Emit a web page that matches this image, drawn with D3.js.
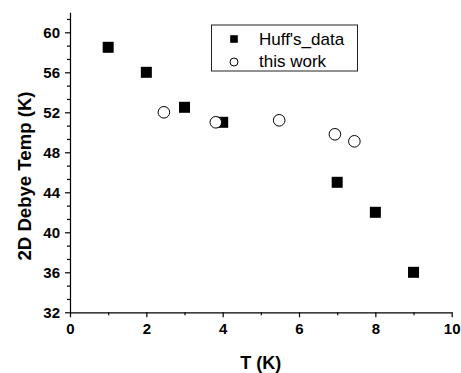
<!DOCTYPE html>
<html>
<head>
<meta charset="utf-8">
<script src="https://cdn.jsdelivr.net/npm/d3@7"></script>
<style>
  html, body { margin: 0; padding: 0; background: #fff; }
  svg { display: block; font-family: "Liberation Sans", Arial, sans-serif; }
</style>
</head>
<body>
<svg id="chart" width="461" height="373"></svg>
<script>
// Huff's measurements: temperature T (K) and 2D Debye temperature (K)
const huffT = [1, 2, 3, 4, 7, 8, 9];
const huffDebye = [58.5, 56, 52.5, 51, 45, 42, 36];

// Values from this work
const workT = [2.46, 3.82, 5.48, 6.94, 7.45];
const workDebye = [52, 51, 51.2, 49.8, 49.1];

// Axis ticks
const xTicks = [0, 2, 4, 6, 8, 10];
const xMinorTicks = [1, 3, 5, 7, 9];
const yTicks = [32, 36, 40, 44, 48, 52, 56, 60];
const yMinorStep = 4 / 3;

const seriesNames = ["Huff's_data", "this work"];

const svg = d3.select("#chart");
const plot = { left: 70, right: 451.7, top: 12.3, bottom: 312.3 };

const x = d3.scaleLinear().domain([0, 10]).range([plot.left, plot.right]);
const y = d3.scaleLinear().domain([32, 62]).range([plot.bottom, plot.top]);

const yMinorTicks = d3.range(0, 23).map(i => 32 + i * yMinorStep).filter(v => v <= 62)
  .filter(v => !yTicks.some(t => Math.abs(t - v) < 1e-6));

// X axis
svg.append("g").attr("transform", `translate(0,${plot.bottom})`)
  .call(d3.axisBottom(x).tickValues(xTicks).tickSize(5).tickPadding(6).tickSizeOuter(0).tickFormat(d3.format("d")));
svg.append("g").attr("transform", `translate(0,${plot.bottom})`)
  .call(d3.axisBottom(x).tickValues(xMinorTicks).tickSize(3).tickSizeOuter(0).tickFormat(""))
  .select(".domain").remove();

// Y axis
svg.append("g").attr("transform", `translate(${plot.left},0)`)
  .call(d3.axisLeft(y).tickValues(yTicks).tickSize(5).tickPadding(5).tickSizeOuter(0).tickFormat(d3.format("d")));
svg.append("g").attr("transform", `translate(${plot.left},0)`)
  .call(d3.axisLeft(y).tickValues(yMinorTicks).tickSize(3).tickSizeOuter(0).tickFormat(""))
  .select(".domain").remove();

svg.selectAll(".tick text")
  .attr("font-size", 15).attr("font-weight", "bold").attr("fill", "#000")
  .attr("font-family", "'Liberation Sans', Arial, sans-serif");
svg.selectAll(".domain, .tick line").attr("stroke", "#000").attr("stroke-width", 1.2);

// Axis titles
svg.append("text")
  .attr("x", (plot.left + plot.right) / 2).attr("y", 368.5)
  .attr("text-anchor", "middle").attr("font-size", 18).attr("font-weight", "bold")
  .text("T (K)");
svg.append("text")
  .attr("transform", "translate(30.5,176) rotate(-90)")
  .attr("text-anchor", "middle").attr("font-size", 18.6).attr("font-weight", "bold")
  .text("2D Debye Temp (K)");

// Huff's data: filled squares
const sq = 11;
svg.append("g").selectAll("rect").data(huffT).join("rect")
  .attr("x", (d) => x(d) - sq / 2)
  .attr("y", (d, i) => y(huffDebye[i]) - sq / 2)
  .attr("width", sq).attr("height", sq)
  .attr("fill", "#000");

// This work: open circles
svg.append("g").selectAll("circle").data(workT).join("circle")
  .attr("cx", (d) => x(d))
  .attr("cy", (d, i) => y(workDebye[i]))
  .attr("r", 5.8)
  .attr("fill", "#fff").attr("stroke", "#000").attr("stroke-width", 1);

// Legend
const legend = svg.append("g");
legend.append("rect")
  .attr("x", 211.5).attr("y", 25).attr("width", 146).attr("height", 46)
  .attr("fill", "#fff").attr("stroke", "#222").attr("stroke-width", 1);
legend.append("rect")
  .attr("x", 234 - 3.8).attr("y", 39 - 3.8).attr("width", 7.6).attr("height", 7.6)
  .attr("fill", "#000");
legend.append("circle")
  .attr("cx", 234).attr("cy", 62).attr("r", 4)
  .attr("fill", "#fff").attr("stroke", "#000").attr("stroke-width", 1);
legend.selectAll("text.lbl").data(seriesNames).join("text")
  .attr("class", "lbl")
  .attr("x", 259).attr("y", (d, i) => 44.5 + i * 22.5)
  .attr("font-size", 17).attr("fill", "#000")
  .text(d => d);
</script>
</body>
</html>
